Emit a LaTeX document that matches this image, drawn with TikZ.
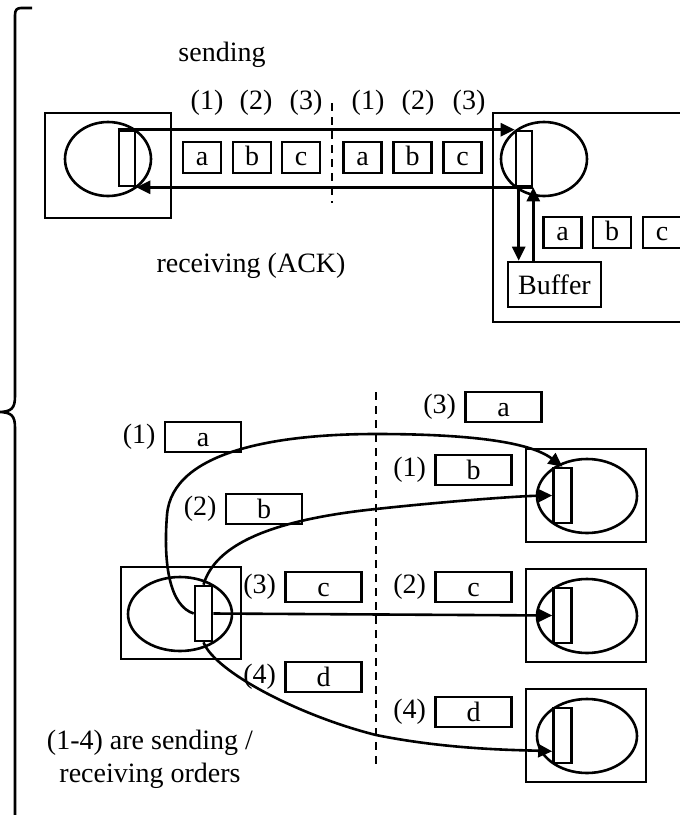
\documentclass[tikz,border=0pt]{standalone}
\usepackage{fontspec}
\setmainfont{Liberation Serif}
\usetikzlibrary{arrows.meta, positioning, calc}

\tikzset{
  port/.style={draw, fill=white, minimum width=16pt, minimum height=55pt, inner sep=0pt},
  pkt/.style={draw, minimum width=38pt, minimum height=31pt, inner sep=0pt,
    text height=20pt, text depth=5pt},
  pktwide/.style={draw, minimum width=76pt, minimum height=30pt, inner sep=0pt,
    text height=22pt, text depth=4pt},
  order/.style={inner sep=0pt},
  divider/.style={line width=2.2pt, dash pattern=on 8pt off 6pt}
}

\begin{document}
\begin{tikzpicture}[x=1pt, y=-1pt, line width=2.6pt,
  >={Triangle[length=14pt, width=13pt]}, font=\fontsize{28}{33}\selectfont]

\useasboundingbox (0,0) rectangle (680,815);

% Outer brace
\draw (32,8) -- (21,8) .. controls (17,8) and (15,10) .. (15,15) -- (15,396)
  .. controls (15,408) and (12,412) .. (-2,412)
  .. controls (12,412) and (15,416) .. (15,428) -- (15,830);

% ---- Top: sending / receiving (ACK)
\node (sendlbl) at (222,55) {sending};
\node (acklbl) at (251,266) {receiving (ACK)};

% Hosts
\draw (45,113) rectangle (171,218);
\draw (108,159) ellipse [x radius=43, y radius=37];
\draw (493,113) rectangle (686,322);
\draw (544,159) ellipse [x radius=43, y radius=37];

\node[port] (lport) at (127,158.5) {};
\node[port] (rport) at (524,158.5) {};

% Packets in flight
\foreach \x/\t [count=\i] in {202/a, 252/b, 301/c, 362.5/a, 412.5/b, 462.5/c}
  \node[pkt] (fly\i) at (\x,157.5) {\t};
\foreach \x/\t [count=\i] in {207/1, 256/2, 306/3, 368/1, 418/2, 469/3}
  \node[order] (num\i) at (\x,103) {(\t)};

\draw[divider] (332,103) -- (332,203);

% Sending and ACK lines
\draw[->] (lport.north west) -- (rport.north west);
\draw[->] (rport.south east) -- (lport.south east);

% Buffer
\node[draw, minimum width=93pt, minimum height=45pt, inner sep=0pt] (buffer)
  at (554.5,284.5) {Buffer};
\draw[->] ([xshift=4pt]rport.south west) -- ([xshift=4pt]rport.south west |- buffer.north);
\draw[->] (buffer.north -| rport.south east) -- (rport.south east);

\foreach \x/\t [count=\i] in {562.5/a, 612/b, 662/c}
  \node[pkt] (buf\i) at (\x,232.5) {\t};

% ---- Bottom: out-of-order delivery
\draw[divider] (376,392) -- (376,767);

% Sender
\draw (121,567) rectangle (241,659);
\draw (180,614) ellipse [x radius=52, y radius=37];
\node[port, minimum width=17pt] (sport) at (203.5,613.5) {};

% Receivers
\foreach \y [count=\i] in {496,616,736} {
  \draw (526,\y-47) rectangle (646,\y+46);
  \draw (587,\y) ellipse [x radius=50, y radius=37];
  \node[port, minimum width=18pt] (dport\i) at (562.5,\y-0.5) {};
}

% Packets with their orders
\node[pktwide] (pa) at (203,437) {a};
\node[order, left=7pt of pa] (oa) {(1)};
\node[pktwide] (pb) at (264,509) {b};
\node[order, left=7pt of pb] (ob) {(2)};
\node[pktwide] (pc) at (323.5,587) {c};
\node[order, left=7pt of pc] (oc) {(3)};
\node[pktwide] (pd) at (323.5,677) {d};
\node[order, left=7pt of pd] (od) {(4)};

\node[pktwide] (qa) at (503.5,407) {a};
\node[order, left=7pt of qa] (ra) {(3)};
\node[pktwide] (qb) at (473.5,470) {b};
\node[order, left=7pt of qb] (rb) {(1)};
\node[pktwide] (qc) at (473.5,587) {c};
\node[order, left=7pt of qc] (rc) {(2)};
\node[pktwide] (qd) at (473.5,712) {d};
\node[order, left=7pt of qd] (rd) {(4)};

% Paths
\draw[->] (sport.west) .. controls (170,606) and (163,565) .. (167,515)
  .. controls (172,450) and (280,434) .. (376,434)
  .. controls (470,434) and (530,442) .. (dport1.north);
\draw[->] (sport.north) .. controls (215,545) and (270,520) .. (376,509)
  .. controls (450,501) and (520,496) .. (dport1.west);
\draw[->] (sport.east) -- (dport2.west);
\draw[->] (sport.south) .. controls (215,672) and (300,716) .. (376,735)
  .. controls (450,750) and (520,750) .. ([yshift=13pt]dport3.south west);

\node[align=center] (note) at (150,759) {(1-4) are sending /\\receiving orders};

\end{tikzpicture}
\end{document}
